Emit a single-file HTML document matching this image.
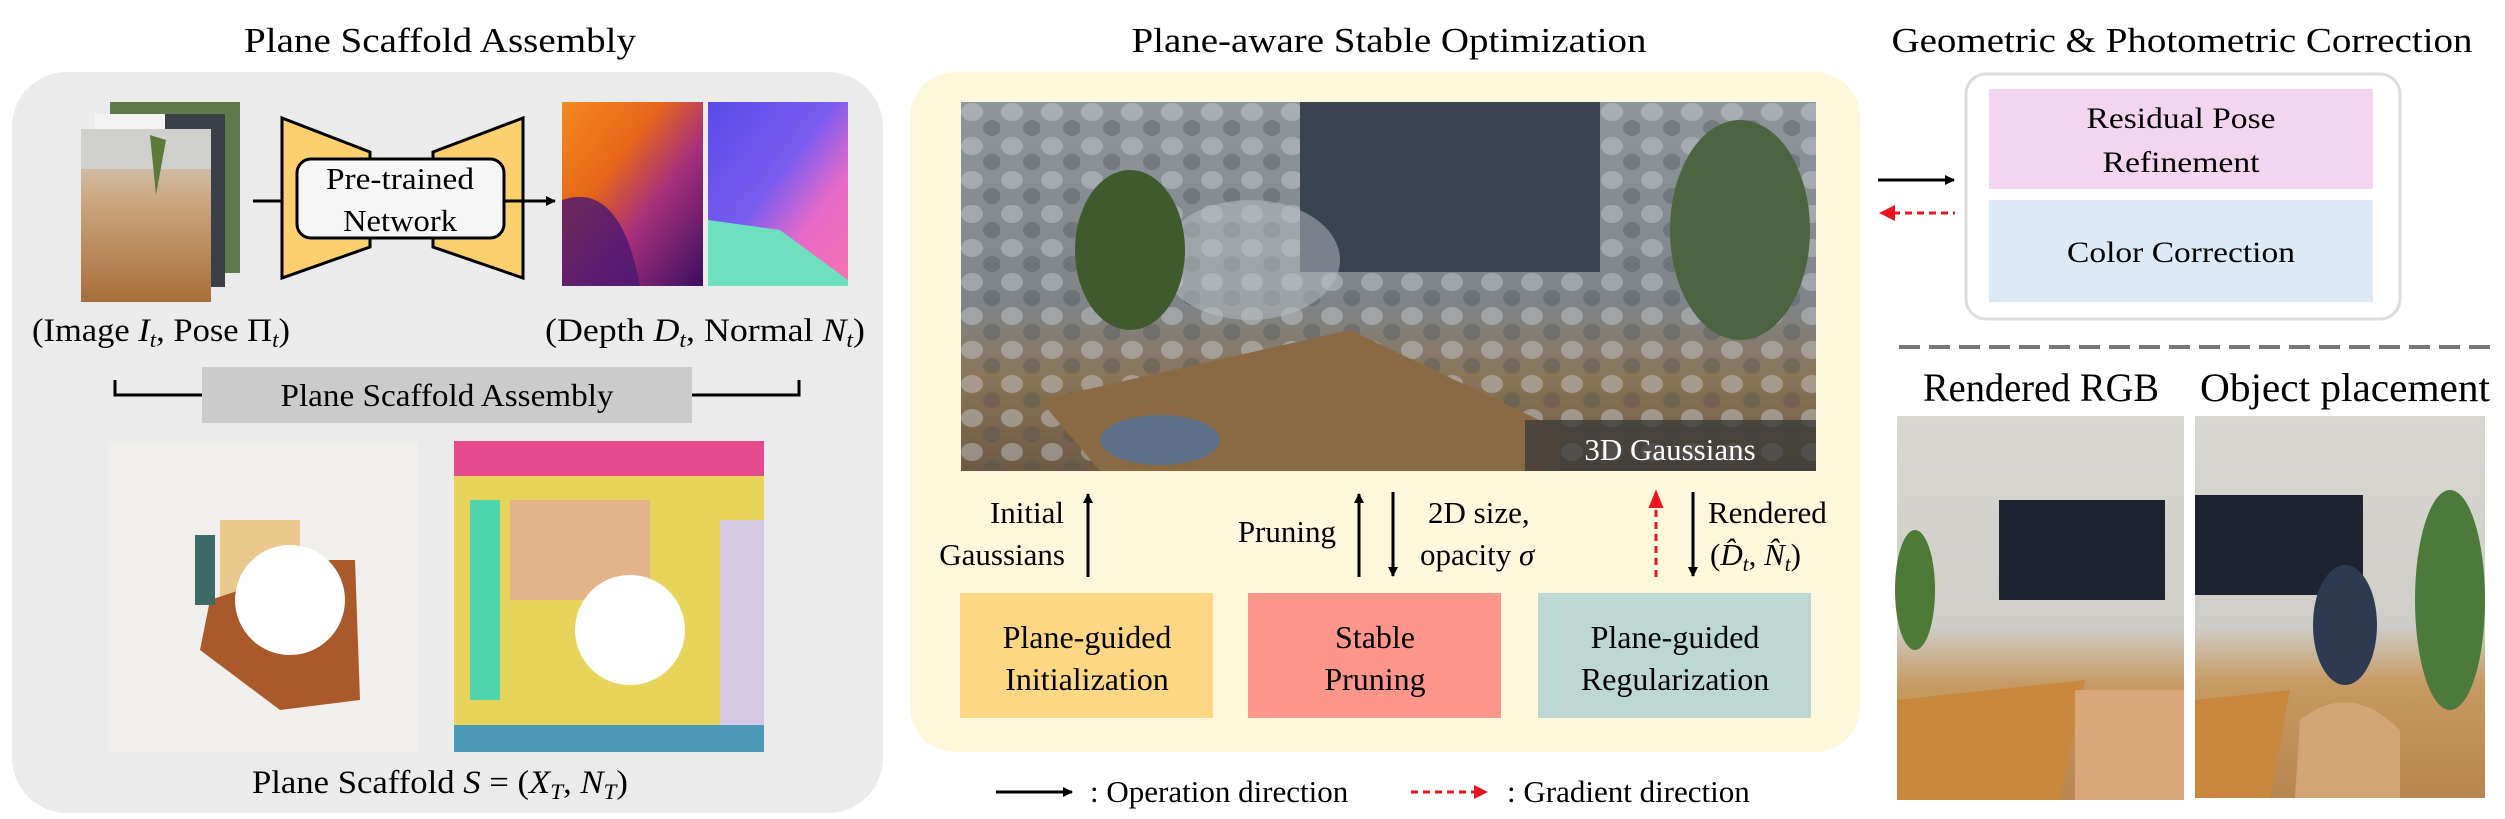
<!DOCTYPE html>
<html><head><meta charset="utf-8"><style>
html,body{margin:0;padding:0;background:#fff}
svg{display:block}
text{font-family:"Liberation Serif",serif;fill:#000}
</style></head><body>
<svg width="2505" height="819" viewBox="0 0 2505 819" xmlns="http://www.w3.org/2000/svg" font-family="Liberation Serif, serif">
<defs>
<linearGradient id="depth" x1="0" y1="0" x2="1" y2="1">
<stop offset="0" stop-color="#f28a1e"/><stop offset="0.35" stop-color="#e8661a"/><stop offset="0.6" stop-color="#a8307a"/><stop offset="1" stop-color="#3a0f62"/></linearGradient>
<linearGradient id="norm" x1="0" y1="0" x2="1" y2="1">
<stop offset="0" stop-color="#5a4ae8"/><stop offset="0.45" stop-color="#7a5cf0"/><stop offset="0.7" stop-color="#e86ac8"/><stop offset="1" stop-color="#f870b0"/></linearGradient>
<linearGradient id="photo" x1="0" y1="0" x2="0" y2="1">
<stop offset="0" stop-color="#d8d6d0"/><stop offset="0.45" stop-color="#c9a37a"/><stop offset="1" stop-color="#a86e3a"/></linearGradient>
<linearGradient id="g3d" x1="0" y1="0" x2="0" y2="1">
<stop offset="0" stop-color="#8e969c"/><stop offset="0.55" stop-color="#7f8488"/><stop offset="0.75" stop-color="#8a7457"/><stop offset="1" stop-color="#6e5a44"/></linearGradient>
<linearGradient id="room" x1="0" y1="0" x2="0" y2="1">
<stop offset="0" stop-color="#d9d7d2"/><stop offset="0.55" stop-color="#cfcdc8"/><stop offset="0.7" stop-color="#c69a62"/><stop offset="1" stop-color="#b98550"/></linearGradient>
<pattern id="blobs" width="40" height="34" patternUnits="userSpaceOnUse">
<ellipse cx="12" cy="10" rx="11" ry="9" fill="#c8ccd0" opacity="0.45"/>
<ellipse cx="32" cy="26" rx="9" ry="8" fill="#4a5056" opacity="0.35"/>
</pattern>
<marker id="ah" markerWidth="10" markerHeight="10" refX="9" refY="5" orient="auto" markerUnits="userSpaceOnUse"><path d="M0,0 L10,5 L0,10z" fill="#000"/></marker>
</defs>

<!-- LEFT PANEL -->
<text x="440" y="52" font-size="35" text-anchor="middle" textLength="392" lengthAdjust="spacingAndGlyphs">Plane Scaffold Assembly</text>
<rect x="12" y="72" width="871" height="741" rx="55" fill="#ebebeb"/>
<rect x="110" y="102" width="130" height="171" fill="#5e7a4a"/>
<rect x="95" y="114" width="130" height="173" fill="#3b4048"/>
<rect x="95" y="114" width="70" height="30" fill="#f3f3f3"/>
<rect x="81" y="129" width="130" height="173" fill="url(#photo)"/>
<rect x="81" y="129" width="130" height="40" fill="#cfd0cc"/>
<path d="M150 135 l6 60 l10 -55 z" fill="#5d7a3a"/>
<line x1="253" y1="201" x2="282" y2="201" stroke="#000" stroke-width="3"/>
<path d="M282 118 L370 152 L370 247 L282 278 Z" fill="#fdd06f" stroke="#000" stroke-width="3"/>
<path d="M523 118 L433 152 L433 247 L523 278 Z" fill="#fdd06f" stroke="#000" stroke-width="3"/>
<rect x="297" y="159" width="207" height="79" rx="14" fill="#f6f6f6" stroke="#000" stroke-width="3"/>
<text x="400" y="189" font-size="31" text-anchor="middle" textLength="148" lengthAdjust="spacingAndGlyphs">Pre-trained</text>
<text x="400" y="231" font-size="31" text-anchor="middle" textLength="114" lengthAdjust="spacingAndGlyphs">Network</text>
<line x1="504" y1="201" x2="555" y2="201" stroke="#000" stroke-width="3" marker-end="url(#ah)"/>
<rect x="562" y="102" width="141" height="184" fill="url(#depth)"/>
<path d="M562 200 Q620 180 640 286 L562 286 Z" fill="#4a1670" opacity="0.8"/>
<rect x="708" y="102" width="140" height="184" fill="url(#norm)"/>
<path d="M708 220 L780 230 L848 280 L848 286 L708 286 Z" fill="#6ee0c0"/>
<text x="32" y="341" font-size="33" textLength="258" lengthAdjust="spacingAndGlyphs">(Image <tspan font-style="italic">I</tspan><tspan font-style="italic" font-size="22" dy="6">t</tspan><tspan dy="-6">, Pose Π</tspan><tspan font-style="italic" font-size="22" dy="6">t</tspan><tspan dy="-6">)</tspan></text>
<text x="545" y="341" font-size="33" textLength="320" lengthAdjust="spacingAndGlyphs">(Depth <tspan font-style="italic">D</tspan><tspan font-style="italic" font-size="22" dy="6">t</tspan><tspan dy="-6">, Normal </tspan><tspan font-style="italic">N</tspan><tspan font-style="italic" font-size="22" dy="6">t</tspan><tspan dy="-6">)</tspan></text>
<path d="M115 380 L115 395 L202 395 M692 395 L799 395 L799 380" fill="none" stroke="#000" stroke-width="3"/>
<rect x="202" y="367" width="490" height="56" fill="#cbcbcb"/>
<text x="447" y="406" font-size="32" text-anchor="middle" textLength="333" lengthAdjust="spacingAndGlyphs">Plane Scaffold Assembly</text>
<rect x="108" y="441" width="309" height="311" fill="#f1efec"/>
<rect x="220" y="520" width="80" height="90" fill="#eac98e"/>
<path d="M330 560 L355 560 L360 700 L280 710 L200 650 L210 600 Z" fill="#a9592a"/>
<circle cx="290" cy="600" r="55" fill="#fff"/>
<rect x="195" y="535" width="20" height="70" fill="#3f6a68"/>
<rect x="454" y="441" width="310" height="311" fill="#e8d45a"/>
<rect x="454" y="441" width="310" height="35" fill="#e54a8c"/>
<rect x="454" y="725" width="310" height="27" fill="#4d9ab8"/>
<rect x="720" y="520" width="44" height="205" fill="#d4c8e4"/>
<rect x="510" y="500" width="140" height="100" fill="#e3b48a"/>
<rect x="470" y="500" width="30" height="200" fill="#4fd6aa"/>
<circle cx="630" cy="630" r="55" fill="#fff"/>
<text x="440" y="793" font-size="33" text-anchor="middle" textLength="376" lengthAdjust="spacingAndGlyphs">Plane Scaffold <tspan font-style="italic">S</tspan> = (<tspan font-style="italic">X</tspan><tspan font-style="italic" font-size="22" dy="6">T</tspan><tspan dy="-6">, </tspan><tspan font-style="italic">N</tspan><tspan font-style="italic" font-size="22" dy="6">T</tspan><tspan dy="-6">)</tspan></text>

<!-- MIDDLE PANEL -->
<text x="1389" y="52" font-size="35" text-anchor="middle" textLength="515" lengthAdjust="spacingAndGlyphs">Plane-aware Stable Optimization</text>
<rect x="910" y="72" width="950" height="680" rx="45" fill="#fdf7dc"/>
<rect x="961" y="102" width="855" height="369" fill="url(#g3d)"/>
<rect x="961" y="102" width="855" height="369" fill="url(#blobs)"/>
<rect x="1300" y="102" width="300" height="170" fill="#3a4350"/>
<ellipse cx="1250" cy="260" rx="90" ry="60" fill="#b9bfc4" opacity="0.5"/>
<ellipse cx="1130" cy="250" rx="55" ry="80" fill="#3f5a2c"/>
<ellipse cx="1740" cy="230" rx="70" ry="110" fill="#4d6440"/>
<path d="M1040 400 L1350 330 L1560 430 L1560 471 L1100 471 Z" fill="#8a6a45"/>
<ellipse cx="1160" cy="440" rx="60" ry="25" fill="#5c7088"/>
<rect x="1525" y="420" width="291" height="51" fill="#383838" opacity="0.75"/>
<text x="1670" y="460" font-size="31" text-anchor="middle" style="fill:#fff">3D Gaussians</text>
<line x1="1088" y1="577" x2="1088" y2="494" stroke="#000" stroke-width="3" marker-end="url(#ah)"/>
<line x1="1359" y1="577" x2="1359" y2="494" stroke="#000" stroke-width="3" marker-end="url(#ah)"/>
<line x1="1393" y1="492" x2="1393" y2="576" stroke="#000" stroke-width="3" marker-end="url(#ah)"/>
<line x1="1656" y1="577" x2="1656" y2="506" stroke="#e8161e" stroke-width="3" stroke-dasharray="7,5"/>
<path d="M1650 507 L1656 492 L1662 507 Z" fill="#e8161e" stroke="#e8161e" stroke-width="2"/>
<line x1="1693" y1="492" x2="1693" y2="576" stroke="#000" stroke-width="3" marker-end="url(#ah)"/>
<text x="1064" y="523" font-size="31" text-anchor="end">Initial</text>
<text x="1065" y="565" font-size="31" text-anchor="end">Gaussians</text>
<text x="1336" y="542" font-size="31" text-anchor="end">Pruning</text>
<text x="1428" y="523" font-size="31">2D size,</text>
<text x="1420" y="565" font-size="31">opacity <tspan font-style="italic">σ</tspan></text>
<text x="1708" y="523" font-size="31">Rendered</text>
<text x="1710" y="565" font-size="31">(<tspan font-style="italic">D̂</tspan><tspan font-style="italic" font-size="21" dy="6">t</tspan><tspan dy="-6">, </tspan><tspan font-style="italic">N̂</tspan><tspan font-style="italic" font-size="21" dy="6">t</tspan><tspan dy="-6">)</tspan></text>
<rect x="960" y="593" width="253" height="125" fill="#fdd783"/>
<rect x="1248" y="593" width="253" height="125" fill="#fc968a"/>
<rect x="1538" y="593" width="273" height="125" fill="#bdd8d2"/>
<text x="1087" y="648" font-size="32" text-anchor="middle">Plane-guided</text>
<text x="1087" y="690" font-size="32" text-anchor="middle">Initialization</text>
<text x="1375" y="648" font-size="32" text-anchor="middle">Stable</text>
<text x="1375" y="690" font-size="32" text-anchor="middle">Pruning</text>
<text x="1675" y="648" font-size="32" text-anchor="middle">Plane-guided</text>
<text x="1675" y="690" font-size="32" text-anchor="middle">Regularization</text>
<line x1="996" y1="792" x2="1072" y2="792" stroke="#000" stroke-width="3" marker-end="url(#ah)"/>
<text x="1090" y="802" font-size="31">: Operation direction</text>
<line x1="1411" y1="792" x2="1476" y2="792" stroke="#e8161e" stroke-width="3" stroke-dasharray="7,5"/>
<path d="M1474 785 L1488 792 L1474 799 Z" fill="#e8161e"/>
<text x="1507" y="802" font-size="31">: Gradient direction</text>

<!-- RIGHT PANEL -->
<text x="2182" y="52" font-size="35" text-anchor="middle" textLength="581" lengthAdjust="spacingAndGlyphs">Geometric &amp; Photometric Correction</text>
<rect x="1966" y="74" width="434" height="245" rx="20" fill="#fff" stroke="#dcdcdc" stroke-width="3"/>
<rect x="1989" y="89" width="384" height="100" fill="#f3d5ef"/>
<rect x="1989" y="200" width="384" height="102" fill="#dde9f5"/>
<text x="2181" y="128" font-size="30" text-anchor="middle" textLength="189" lengthAdjust="spacingAndGlyphs">Residual Pose</text>
<text x="2181" y="172" font-size="30" text-anchor="middle" textLength="157" lengthAdjust="spacingAndGlyphs">Refinement</text>
<text x="2181" y="262" font-size="30" text-anchor="middle" textLength="228" lengthAdjust="spacingAndGlyphs">Color Correction</text>
<line x1="1878" y1="180" x2="1954" y2="180" stroke="#000" stroke-width="3" marker-end="url(#ah)"/>
<line x1="1893" y1="213" x2="1955" y2="213" stroke="#e8161e" stroke-width="3" stroke-dasharray="7,5"/>
<path d="M1895 205 L1879 213 L1895 221 Z" fill="#e8161e"/>
<line x1="1899" y1="347" x2="2495" y2="347" stroke="#777" stroke-width="4" stroke-dasharray="21,9"/>
<text x="2041" y="401" font-size="40" text-anchor="middle" textLength="236" lengthAdjust="spacingAndGlyphs">Rendered RGB</text>
<text x="2345" y="401" font-size="40" text-anchor="middle" textLength="290" lengthAdjust="spacingAndGlyphs">Object placement</text>
<rect x="1897" y="416" width="287" height="384" fill="url(#room)"/>
<rect x="1999" y="500" width="166" height="100" fill="#1d2330"/>
<path d="M1897 700 L2085 680 L2060 800 L1897 800 Z" fill="#c9883e"/>
<rect x="2075" y="690" width="109" height="110" fill="#d9a77a"/>
<ellipse cx="1915" cy="590" rx="20" ry="60" fill="#4d7a36"/>
<rect x="2195" y="416" width="290" height="382" fill="url(#room)"/>
<rect x="2195" y="495" width="168" height="100" fill="#1d2330"/>
<path d="M2195 700 L2290 690 L2270 798 L2195 798 Z" fill="#c9883e"/>
<ellipse cx="2345" cy="625" rx="32" ry="60" fill="#2e3a52"/>
<path d="M2300 720 Q2350 680 2400 730 L2400 798 L2295 798 Z" fill="#d3a574"/>
<ellipse cx="2450" cy="600" rx="35" ry="110" fill="#4c7a3a"/>
</svg>
</body></html>
